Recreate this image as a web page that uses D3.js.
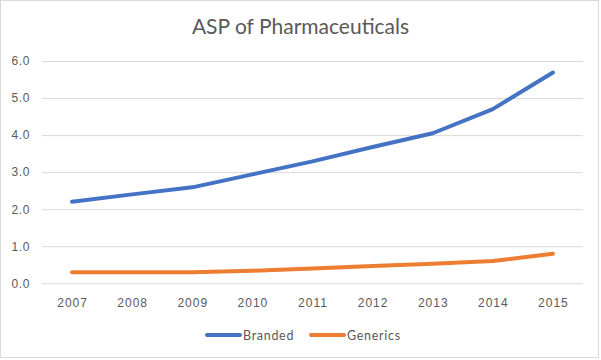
<!DOCTYPE html>
<html>
<head>
<meta charset="utf-8">
<script src="https://cdn.jsdelivr.net/npm/d3@7"></script>
<style>
  body { margin: 0; background: #fff; }
  svg { display: block; font-family: Lato, "Open Sans", sans-serif; }
</style>
</head>
<body>
<svg id="chart" width="601" height="360"></svg>
<script>
var years = ["2007", "2008", "2009", "2010", "2011", "2012", "2013", "2014", "2015"];
var branded = [2.2, 2.4, 2.59, 2.94, 3.29, 3.68, 4.05, 4.7, 5.69];
var generics = [0.3, 0.3, 0.3, 0.34, 0.4, 0.47, 0.53, 0.6, 0.8];
var yTicks = [0, 1, 2, 3, 4, 5, 6];
var seriesNames = ["Branded", "Generics"];
var colors = ["#4472C4", "#ED7D31"];

var svg = d3.select("#chart");

// chart frame
svg.append("rect")
	.attr("x", 0.5).attr("y", 0.5)
	.attr("width", 598).attr("height", 357)
	.attr("fill", "#fff")
	.attr("stroke", "#d9d9d9");

svg.append("text")
	.attr("x", 300.5).attr("y", 34)
	.attr("text-anchor", "middle")
	.style("font-size", "21px")
	.style("fill", "#595959")
	.text("ASP of Pharmaceuticals");

var x = d3.scalePoint().domain(years).range([42, 583]).padding(0.5);
var y = d3.scaleLinear().domain([0, 6]).range([283.3, 61]);

// gridlines
var yAxis = svg.append("g")
	.attr("class", "y axis")
	.attr("transform", "translate(42,0)")
	.call(d3.axisLeft(y).tickValues(yTicks).tickSize(-541).tickPadding(12)
		.tickFormat(d3.format(".1f")));
yAxis.select(".domain").remove();
yAxis.selectAll(".tick line").attr("stroke", "#d9d9d9");
yAxis.selectAll(".tick text")
	.attr("x", -12)
	.style("font-size", "12px")
	.style("letter-spacing", "0.6px")
	.style("fill", "#595959");

var xAxis = svg.append("g")
	.attr("class", "x axis")
	.attr("transform", "translate(0,283.3)")
	.call(d3.axisBottom(x).tickSize(0).tickPadding(15));
xAxis.select(".domain").remove();
xAxis.selectAll(".tick text")
	.style("font-size", "12px")
	.style("letter-spacing", "1px")
	.style("fill", "#595959");

var line = d3.line()
	.x(function(d, i) { return x(years[i]); })
	.y(function(d) { return y(d); });

[branded, generics].forEach(function(vals, i) {
	svg.append("path")
		.datum(vals)
		.attr("d", line)
		.attr("fill", "none")
		.attr("stroke", colors[i])
		.attr("stroke-width", 4)
		.attr("stroke-linecap", "round")
		.attr("stroke-linejoin", "round");
});

// legend
var legendX = [207, 311];
seriesNames.forEach(function(name, i) {
	var g = svg.append("g").attr("transform", "translate(" + legendX[i] + ",335)");
	g.append("line")
		.attr("x1", 0).attr("x2", 33)
		.attr("stroke", colors[i])
		.attr("stroke-width", 4)
		.attr("stroke-linecap", "round");
	g.append("text")
		.attr("x", 36).attr("y", 4.5)
		.style("font-size", "12.5px")
		.style("letter-spacing", "0.7px")
		.style("fill", "#595959")
		.text(name);
});
</script>
</body>
</html>
